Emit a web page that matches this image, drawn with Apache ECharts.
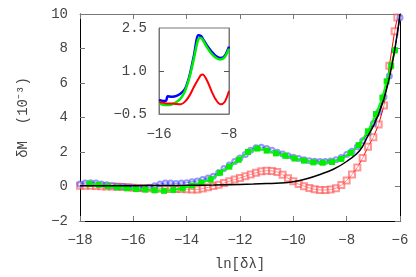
<!DOCTYPE html>
<html><head><meta charset="utf-8">
<script src="https://cdn.jsdelivr.net/npm/echarts@6/dist/echarts.min.js"></script>
<style>html,body{margin:0;padding:0;background:#fff}#c{width:416px;height:277px}</style>
</head><body><div id="c"></div>
<script>
// ---- main panel data ----
const fineX = [-18.0,-17.8,-17.6,-17.4,-17.2,-17.0,-16.8,-16.6,-16.4,-16.2,-16.0,-15.8,-15.6,-15.4,-15.2,-15.0,-14.8,-14.6,-14.4,-14.2,-14.0,-13.8,-13.6,-13.4,-13.2,-13.0,-12.8,-12.6,-12.4,-12.2,-12.0,-11.8,-11.6,-11.4,-11.2,-11.0,-10.8,-10.6,-10.4,-10.2,-10.0,-9.8,-9.6,-9.4,-9.2,-9.0,-8.8,-8.6,-8.4,-8.2,-8.0,-7.8,-7.6,-7.4,-7.2,-7.0,-6.8,-6.6,-6.4,-6.2,-6.0];
const blueY = [0.15,0.2,0.22,0.2,0.15,0.1,0.05,0.02,0.0,-0.03,-0.05,-0.08,-0.08,-0.05,0.05,0.15,0.2,0.2,0.18,0.2,0.22,0.28,0.32,0.4,0.5,0.6,0.8,1.05,1.25,1.45,1.65,1.85,2.1,2.25,2.28,2.2,2.1,1.98,1.88,1.78,1.7,1.62,1.55,1.5,1.47,1.45,1.45,1.48,1.55,1.68,1.85,2.05,2.3,2.65,3.1,3.65,4.3,5.2,6.4,7.9,9.8];
const redX = [-18.0,-17.8,-17.6,-17.4,-17.2,-17.0,-16.8,-16.6,-16.4,-16.2,-16.0,-15.8,-15.6,-15.4,-15.2,-15.0,-14.8,-14.6,-14.4,-14.2,-14.0,-13.8,-13.6,-13.4,-13.2,-13.0,-12.8,-12.6,-12.4,-12.2,-12.0,-11.8,-11.6,-11.4,-11.2,-11.0,-10.8,-10.6,-10.4,-10.2,-10.0,-9.8,-9.6,-9.4,-9.2,-9.0,-8.8,-8.6,-8.4,-8.2,-8.0,-7.8,-7.6,-7.4,-7.2,-7.0,-6.8,-6.6,-6.4,-6.2,-6.1];
const redY = [0.05,0.05,0.05,0.03,0.02,0.0,0.0,-0.02,-0.03,-0.05,-0.07,-0.08,-0.1,-0.1,-0.12,-0.13,-0.13,-0.14,-0.15,-0.15,-0.16,-0.17,-0.17,-0.12,-0.05,0.03,0.1,0.2,0.3,0.4,0.5,0.6,0.7,0.8,0.88,0.92,0.9,0.84,0.68,0.48,0.3,0.14,0.02,-0.08,-0.16,-0.2,-0.2,-0.18,-0.1,0.08,0.35,0.7,1.1,1.65,2.3,2.85,3.6,4.7,7.0,9.0,9.8];
const greenX = [-17.65,-17.3,-16.95,-16.6,-16.25,-15.9,-15.55,-15.2,-14.85,-14.5,-14.15,-13.8,-13.45,-13.1,-12.75,-12.4,-12.05,-11.7,-11.35,-11.0,-10.65,-10.3,-9.95,-9.6,-9.25,-8.9,-8.55,-8.2,-7.85,-7.55,-7.2,-6.9,-6.66,-6.5,-6.33,-6.19];
const greenY = [0.15,0.1,0.02,-0.05,-0.1,-0.15,-0.18,-0.22,-0.25,-0.2,-0.1,0.05,0.22,0.4,0.8,1.15,1.55,2.0,2.2,2.08,1.92,1.78,1.62,1.5,1.4,1.38,1.42,1.6,1.95,2.4,3.2,4.2,5.15,6.1,7.0,7.9];
const blackX = [-18,-17,-16,-15,-14,-13,-12,-11.5,-11,-10.5,-10,-9.5,-9,-8.5,-8,-7.5,-7.2,-7.0,-6.8,-6.6,-6.4,-6.2,-6.0];
const blackY = [0.05,0.05,0.05,0.06,0.07,0.09,0.12,0.14,0.17,0.2,0.28,0.45,0.7,1.0,1.45,2.1,2.95,3.5,4.2,5.1,6.3,7.9,10];
// ---- inset data ----
const insetX = [-16,-15.5,-15.2,-15.0,-14.5,-14.0,-13.5,-13.0,-12.5,-12.0,-11.5,-11.2,-11.0,-10.5,-10.0,-9.5,-9.0,-8.5,-8.0];
const insetBlue = [-0.01,-0.05,-0.04,0.12,0.1,0.13,0.22,0.39,0.85,1.55,2.25,2.22,2.13,1.88,1.68,1.52,1.45,1.52,1.85];
const insetGreen = [-0.13,-0.18,-0.19,-0.19,-0.16,-0.08,0.05,0.32,0.8,1.45,2.12,2.15,2.08,1.82,1.6,1.46,1.4,1.48,1.78];
const insetRed = [-0.09,-0.11,-0.13,-0.13,-0.13,-0.15,-0.16,-0.06,0.15,0.45,0.72,0.86,0.88,0.66,0.3,0.0,-0.16,-0.08,0.3];
// ---- ticks ----
const mainXTicks = [-18,-16,-14,-12,-10,-8,-6];
const mainYTicks = [-2,0,2,4,6,8,10];
const insetXTicks = [-16,-8];
const insetYTicks = [-0.5,1.0,2.5];

const zip = (xs, ys) => xs.map((x, i) => [x, ys[i]]);
const fmt = v => String(v).replace('-', '\u2212');
const fmt1 = v => v.toFixed(1).replace('-', '\u2212');
const FONT = 'Liberation Mono';
const lab = { color: '#444', fontFamily: FONT, fontSize: 14 };

const chart = echarts.init(document.getElementById('c'), null, { renderer: 'canvas' });
chart.setOption({
  animation: false,
  backgroundColor: '#fff',
  grid: [
    { left: 80, top: 14, width: 320, height: 207, show: false },
    { left: 159, top: 28, width: 70, height: 86, show: true, backgroundColor: '#fff', borderColor: '#777', borderWidth: 1, z: 5 }
  ],
  xAxis: [
    { gridIndex: 0, type: 'value', position: 'bottom', min: -18, max: -6, interval: 2,
      axisLine: { show: true, onZero: false, lineStyle: { color: '#000', width: 1 } },
      axisTick: { show: true, inside: true, length: 5, lineStyle: { color: '#777' } },
      axisLabel: Object.assign({ margin: 12, formatter: fmt, customValues: mainXTicks }, lab),
      splitLine: { show: false },
      name: 'ln[δλ]', nameLocation: 'middle', nameGap: 36,
      nameTextStyle: { color: '#444', fontFamily: FONT, fontSize: 14 } },
    { gridIndex: 0, type: 'value', position: 'top', min: -18, max: -6, interval: 2,
      axisLine: { show: true, onZero: false, lineStyle: { color: '#777', width: 1 } },
      axisTick: { show: true, inside: true, length: 5, lineStyle: { color: '#777' } },
      axisLabel: { show: false }, splitLine: { show: false } },
    { gridIndex: 1, type: 'value', position: 'bottom', min: -16, max: -8, interval: 8,
      axisLine: { show: true, onZero: false, lineStyle: { color: '#777', width: 1 } },
      axisTick: { show: false },
      axisLabel: Object.assign({ margin: 13, formatter: fmt, customValues: insetXTicks }, lab),
      splitLine: { show: false }, z: 6 },
  ],
  yAxis: [
    { gridIndex: 0, type: 'value', position: 'left', min: -2, max: 10, interval: 2,
      axisLine: { show: true, onZero: false, lineStyle: { color: '#000', width: 1 } },
      axisTick: { show: true, inside: true, length: 5, lineStyle: { color: '#777' } },
      axisLabel: Object.assign({ margin: 12, formatter: fmt, customValues: mainYTicks }, lab),
      splitLine: { show: false },
      name: 'δM  (10\u207B\u00B3)', nameLocation: 'middle', nameRotate: 90, nameGap: 50,
      nameTextStyle: { color: '#444', fontFamily: FONT, fontSize: 14 } },
    { gridIndex: 0, type: 'value', position: 'right', min: -2, max: 10, interval: 2,
      axisLine: { show: true, onZero: false, lineStyle: { color: '#000', width: 1 } },
      axisTick: { show: true, inside: true, length: 5, lineStyle: { color: '#777' } },
      axisLabel: { show: false }, splitLine: { show: false } },
    { gridIndex: 1, type: 'value', position: 'left', min: -0.5, max: 2.5,
      axisLine: { show: true, onZero: false, lineStyle: { color: '#777', width: 1 } },
      axisTick: { show: true, inside: true, length: 5, customValues: [1.0], lineStyle: { color: '#555' } },
      axisLabel: Object.assign({ margin: 12, formatter: fmt1, customValues: insetYTicks }, lab),
      splitLine: { show: false }, z: 6 },
    { gridIndex: 1, type: 'value', position: 'right', min: -0.5, max: 2.5,
      axisLine: { show: true, onZero: false, lineStyle: { color: '#777', width: 1 } },
      axisTick: { show: true, inside: true, length: 5, customValues: [1.0], lineStyle: { color: '#555' } },
      axisLabel: { show: false }, splitLine: { show: false }, z: 6 }
  ],
  series: [
    { type: 'line', xAxisIndex: 0, yAxisIndex: 0, data: zip(redX, redY), symbol: 'emptyRect', symbolSize: 6, showAllSymbol: true,
      itemStyle: { color: '#ff4040', opacity: 0.55, borderWidth: 1 }, lineStyle: { color: '#ff0000', width: 1 }, clip: true, z: 2 },
    { type: 'line', xAxisIndex: 0, yAxisIndex: 0, data: zip(fineX, blueY), symbol: 'emptyCircle', symbolSize: 5, showAllSymbol: true,
      itemStyle: { color: '#4040ff', opacity: 0.55, borderWidth: 1 }, lineStyle: { color: '#0000ff', width: 1 }, clip: true, z: 3 },
    { type: 'line', xAxisIndex: 0, yAxisIndex: 0, data: zip(greenX, greenY), symbol: 'rect', symbolSize: 6, showAllSymbol: true,
      itemStyle: { color: '#00ee00' }, lineStyle: { color: '#00ff00', width: 2 }, clip: true, z: 4 },
    { type: 'line', xAxisIndex: 0, yAxisIndex: 0, data: zip(blackX, blackY), symbol: 'none', smooth: 0.4,
      lineStyle: { color: '#000', width: 1.5 }, clip: true, z: 5 },
    { type: 'line', xAxisIndex: 2, yAxisIndex: 2, data: zip(insetX, insetBlue), symbol: 'none', smooth: 0.3,
      lineStyle: { color: '#0000ff', width: 2.5 }, clip: true, z: 7 },
    { type: 'line', xAxisIndex: 2, yAxisIndex: 2, data: zip(insetX, insetGreen), symbol: 'none', smooth: 0.3,
      lineStyle: { color: '#00ee00', width: 2.5 }, clip: true, z: 8 },
    { type: 'line', xAxisIndex: 2, yAxisIndex: 2, data: zip(insetX, insetRed), symbol: 'none', smooth: 0.3,
      lineStyle: { color: '#ff0000', width: 2 }, clip: true, z: 9 }
  ]
});
</script>
</body></html>
